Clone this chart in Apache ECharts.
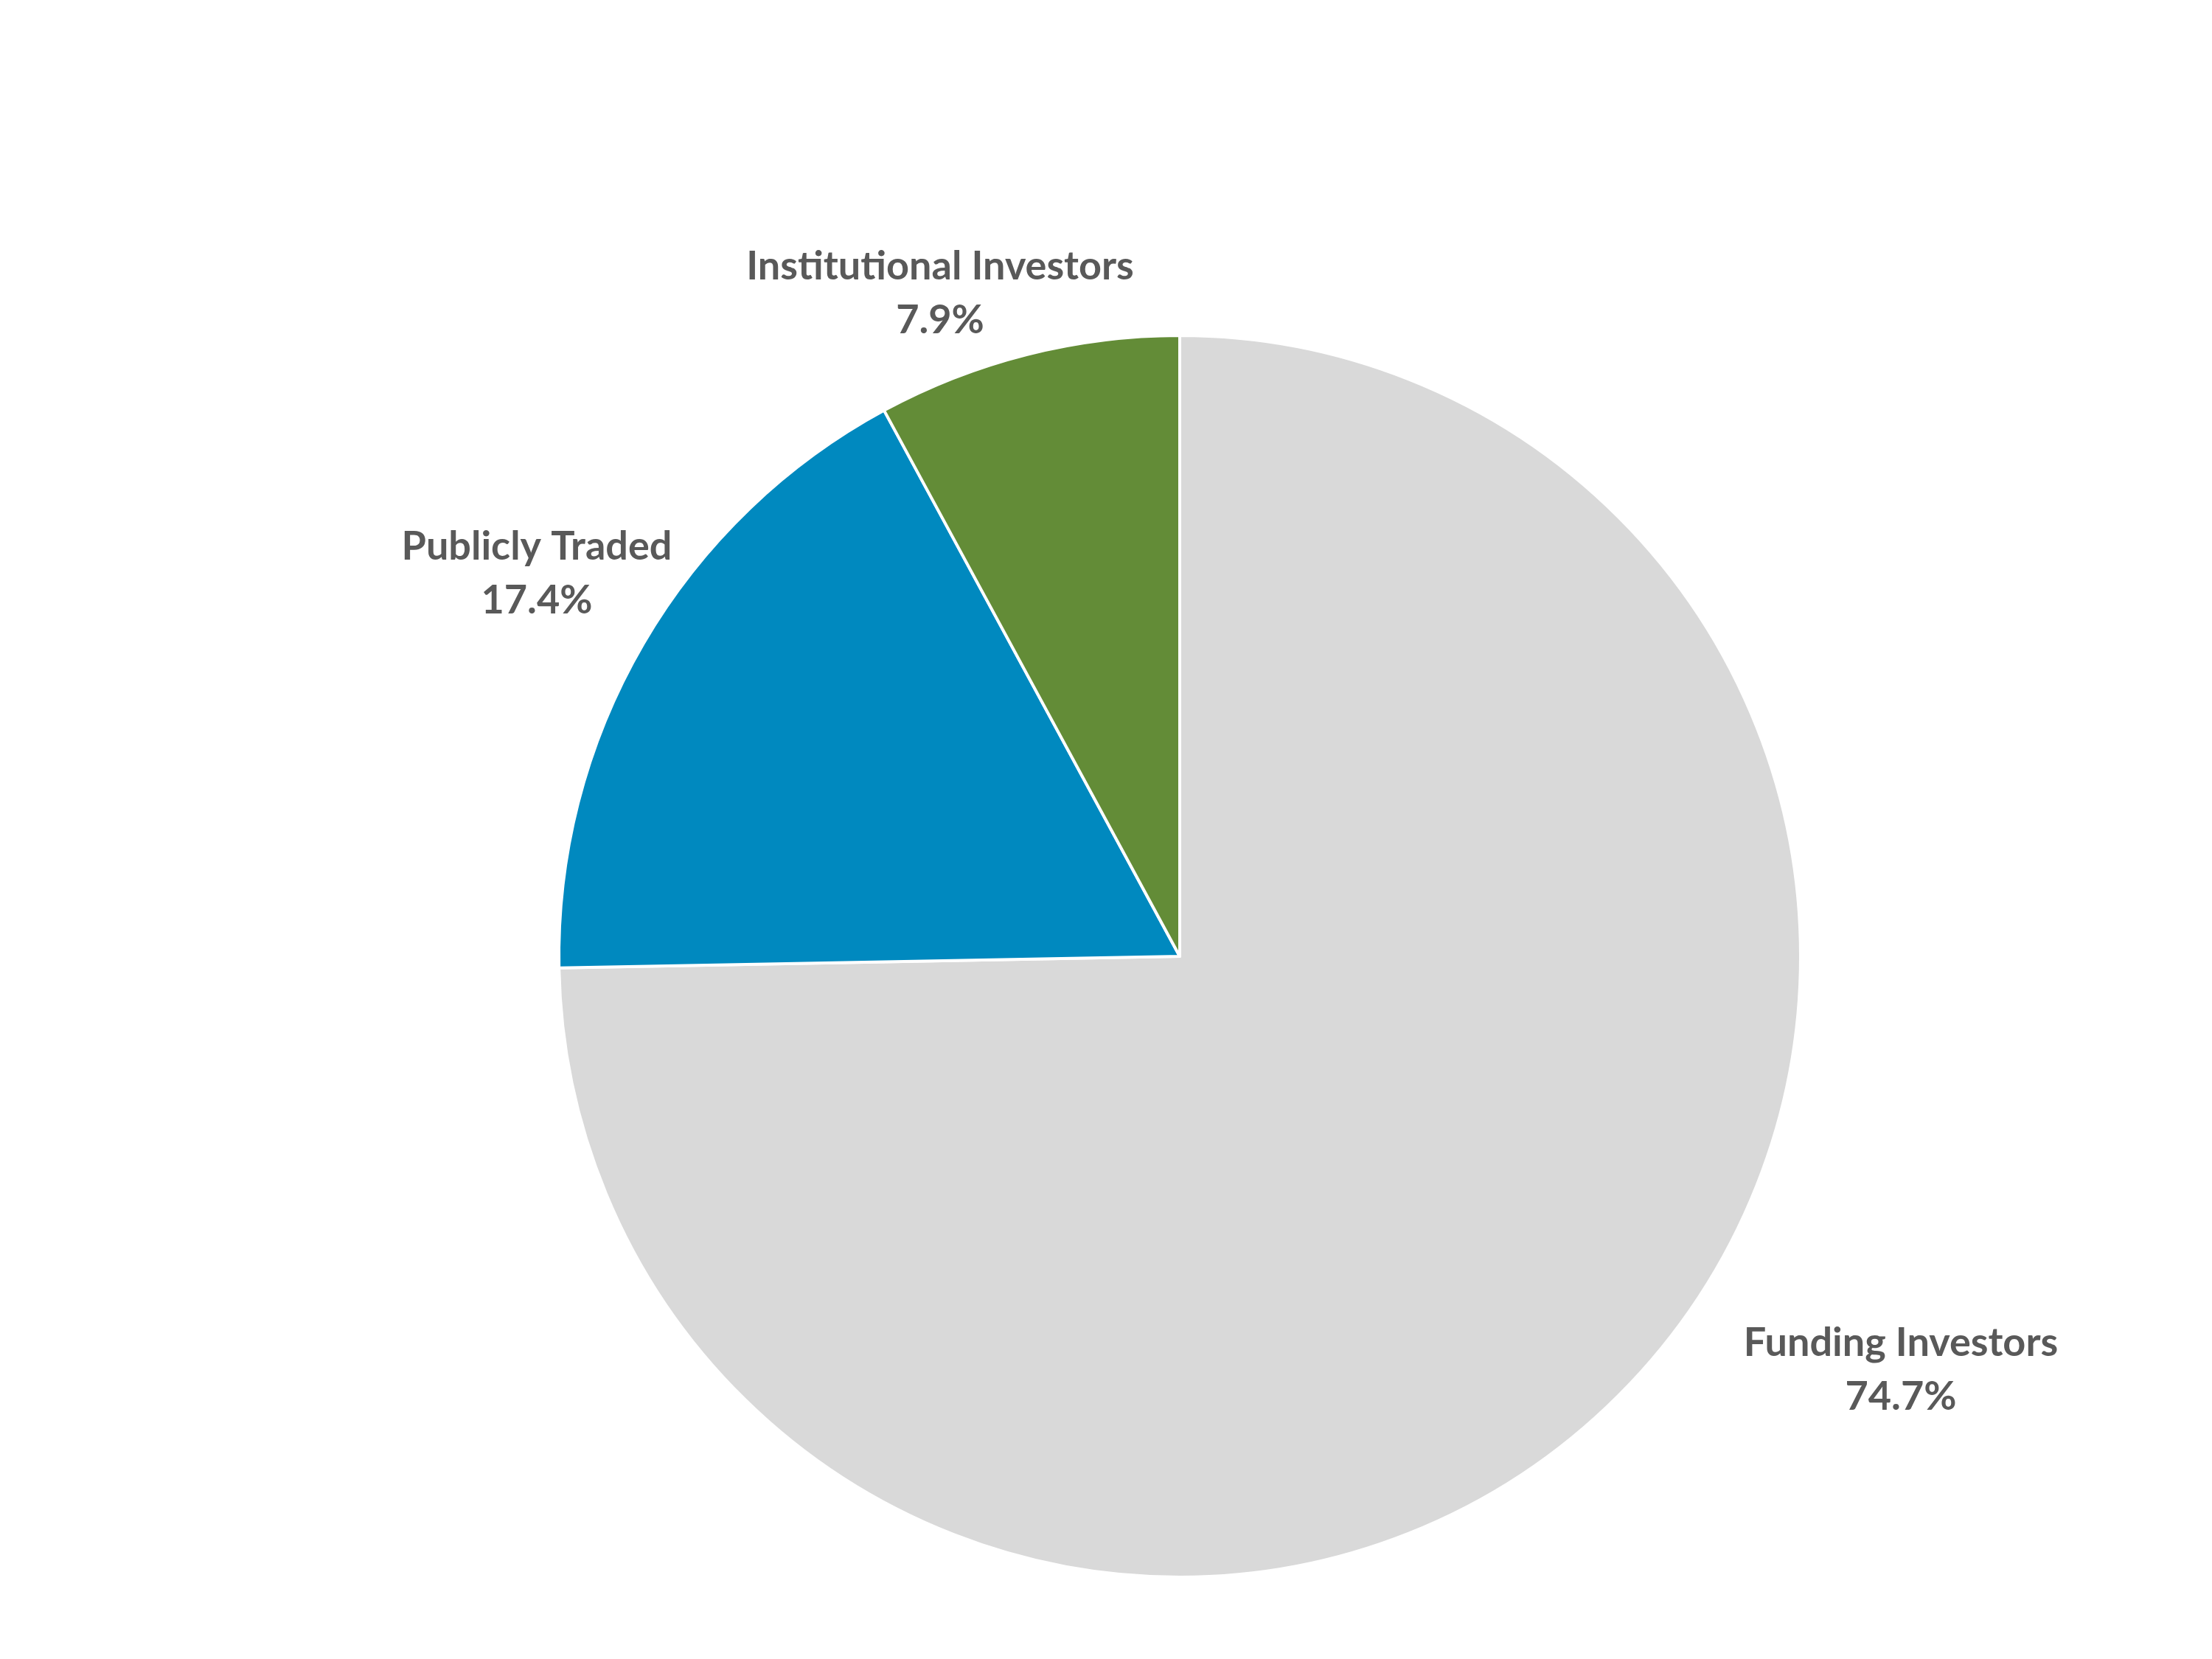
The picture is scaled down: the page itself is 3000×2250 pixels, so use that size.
<!DOCTYPE html>
<html>
<head>
<meta charset="utf-8">
<script src="https://cdn.jsdelivr.net/npm/echarts@6/dist/echarts.min.js"></script>
<style>
html,body{margin:0;padding:0;background:#fff;}
#chart{width:3000px;height:2250px;}
</style>
</head>
<body>
<div id="chart"></div>
<script>
const categories = ['Funding Investors', 'Publicly Traded', 'Institutional Investors'];
const values = [74.7, 17.4, 7.9];
const colors = ['#D9D9D9', '#0089BF', '#638C37'];
// label centre positions (pixels) for each slice
const labelPos = [[2578, 1858], [728, 778], [1275, 398]];

const chart = echarts.init(document.getElementById('chart'), null, {renderer: 'canvas'});
chart.setOption({
  backgroundColor: '#ffffff',
  animation: false,
  series: [{
    type: 'pie',
    center: [1600, 1297],
    radius: [0, 842],
    startAngle: 90,
    clockwise: true,
    avoidLabelOverlap: false,
    itemStyle: {borderColor: '#ffffff', borderWidth: 4},
    label: {
      show: true,
      position: 'outside',
      formatter: p => p.name + '\n' + p.value.toFixed(1) + '%',
      fontFamily: 'Lato',
      fontWeight: 'bold',
      fontSize: 54,
      lineHeight: 73,
      color: '#595959',
      align: 'center'
    },
    labelLine: {show: false},
    labelLayout: params => ({
      x: labelPos[params.dataIndex][0],
      y: labelPos[params.dataIndex][1],
      align: 'center',
      verticalAlign: 'middle'
    }),
    data: categories.map((c, i) => ({name: c, value: values[i], itemStyle: {color: colors[i]}}))
  }]
});
</script>
</body>
</html>
